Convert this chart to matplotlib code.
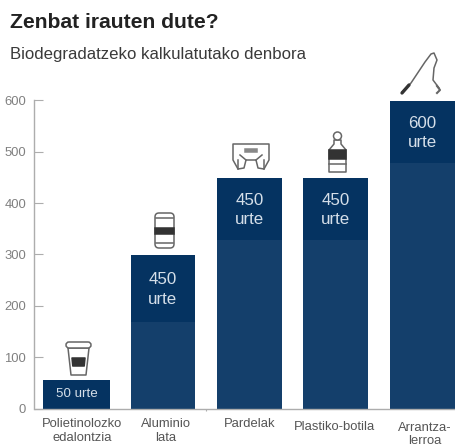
import matplotlib
matplotlib.use("Agg")
import matplotlib.pyplot as plt
from matplotlib.patches import Rectangle, FancyBboxPatch, Polygon, Ellipse
import numpy as np

plt.rcParams['font.family'] = ['Liberation Sans', 'DejaVu Sans']

W, H = 456, 446
categories = ["Polietinolozko\nedalontzia", "Aluminio\nlata", "Pardelak", "Plastiko-botila", "Arrantza-\nlerroa"]
values = [55, 300, 450, 450, 600]
top_band = [55, 132, 122, 122, 122]
bar_labels = ["50 urte", "450\nurte", "450\nurte", "450\nurte", "600\nurte"]
yticks = [0, 100, 200, 300, 400, 500, 600]

DARK = "#053361"
LIGHT = "#143f6b"
GREY = "#adadad"
TICKTXT = "#808080"
ICON = "#666666"

fig = plt.figure(figsize=(W/100, H/100), dpi=100, facecolor="white")
L, R, T, B = 34.5, 456, 100.5, 408.5
ax = fig.add_axes([L/W, 1-B/H, (R-L)/W, (B-T)/H])
ax.set_ylim(0, 600)
c0, step = 76.5, 86.4
ax.set_xlim((L-c0)/step, (R-c0)/step)
x = np.arange(len(values))
widths = [0.78, 0.75, 0.75, 0.75, 0.75]
lower = [v-t for v, t in zip(values, top_band)]
ax.bar(x, lower, width=widths, color=LIGHT, linewidth=0, zorder=2)
ax.bar(x, top_band, bottom=lower, width=widths, color=DARK, linewidth=0, zorder=2)

for s in ("top", "right"):
    ax.spines[s].set_visible(False)
for s in ("left", "bottom"):
    ax.spines[s].set_color(GREY)
    ax.spines[s].set_linewidth(1.0)
ax.set_yticks(yticks)
ax.tick_params(axis="y", direction="in", length=6.5, width=0.8, color=GREY,
               labelcolor=TICKTXT, labelsize=9.4, pad=6)
ax.set_xticks([1.5])
ax.set_xticklabels([""])
ax.tick_params(axis="x", direction="out", length=1.5, width=0.8, color=GREY)
ax.patch.set_alpha(0)

# bar labels
for i, (v, t, lab) in enumerate(zip(values, top_band, bar_labels)):
    small = i == 0
    ax.text(i, v - t/2 - (0 if small else 2), lab, ha="center", va="center", color="#d5dfe9",
            fontsize=9.6 if small else 12.2, linespacing=1.35, zorder=3)

# overlay in pixel coordinates: title, labels, icons
ov = fig.add_axes([0, 0, 1, 1])
ov.set_xlim(0, W); ov.set_ylim(H, 0); ov.axis("off"); ov.patch.set_alpha(0)
ov.text(10.5, 22.5, "Zenbat irauten dute?", fontsize=15.2, fontweight="bold", color="#222222", va="center")
ov.text(10.5, 55, "Biodegradatzeko kalkulatutako denbora", fontsize=12.1, color="#3a3a3a", va="center")

label_xy = [(82, 431), (166, 431), (250, 424), (335, 427), (425, 434.5)]
for (lx, ly), c in zip(label_xy, categories):
    ov.text(lx, ly, c, ha="center", va="center", fontsize=9.4, color="#555555", linespacing=1.15)

lw = 1.1
def rect(x0, y0, w, h, fc="white", ec=ICON, r=0):
    if r:
        ov.add_patch(FancyBboxPatch((x0, y0), w, h, boxstyle=f"round,pad=0,rounding_size={r}", fc=fc, ec=ec, lw=lw))
    else:
        ov.add_patch(Rectangle((x0, y0), w, h, fc=fc, ec=ec, lw=lw))

def poly(pts, fc="white", ec=ICON, closed=True):
    ov.add_patch(Polygon(pts, closed=closed, fc=fc, ec=ec, lw=lw, joinstyle="round"))

# cup
poly([(68, 348), (89, 348), (86, 375), (71, 375)])
rect(66, 342, 25, 6, r=3)
poly([(72, 358), (85, 358), (84.2, 366), (72.8, 366)], fc="#333333", ec="#333333")

# can
rect(155, 213, 19, 35, r=4)
ov.plot([156, 173], [218, 218], color=ICON, lw=lw)
ov.plot([156, 173], [243, 243], color=ICON, lw=lw)
rect(155, 228, 19, 6, fc="#333333", ec="#333333")

# diaper
poly([(233, 144), (269, 144), (269, 160), (264, 169), (258, 168), (256, 160), (246, 160), (244, 168), (238, 169), (233, 160)])
rect(245, 149, 12, 2.5, fc="#888888", ec="#888888")
ov.plot([240, 246], [155, 160], color=ICON, lw=lw)
ov.plot([262, 256], [155, 160], color=ICON, lw=lw)
ov.plot([238, 238], [160, 169], color=ICON, lw=lw)
ov.plot([264, 264], [160, 169], color=ICON, lw=lw)

# bottle
poly([(334, 140), (341, 140), (341, 144), (346, 150), (346, 172), (329, 172), (329, 150), (334, 144)])
ov.add_patch(Ellipse((337.5, 136), 8, 8, fc="white", ec=ICON, lw=lw))
rect(329, 150, 17, 9, fc="#333333", ec="#333333")
ov.plot([329, 346], [164, 164], color=ICON, lw=lw)

# fishing rod
ov.plot([402, 411, 425, 431, 434, 437, 434, 433, 436, 439],
        [92, 83, 62, 54, 53, 60, 68, 80, 84, 88], color=ICON, lw=1.1)
ov.plot([402, 409], [93, 85], color="#333333", lw=2.4, solid_capstyle="round")
ov.plot([437, 440, 437], [86, 90, 93], color=ICON, lw=1.5)

fig.savefig("out.png", dpi=100)
